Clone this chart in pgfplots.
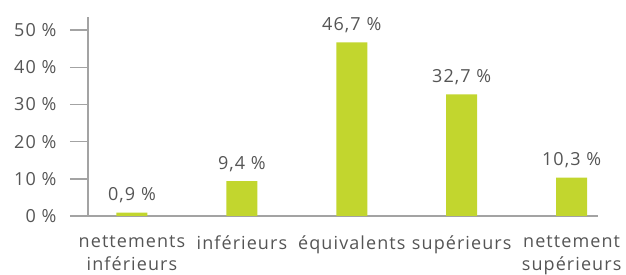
\documentclass[border=0pt]{standalone}
\usepackage{pgfplots}
\pgfplotsset{compat=1.18}
\usepackage{fontspec}
\setmainfont[LetterSpace=6]{Open Sans}
\definecolor{barc}{HTML}{C2D62E}
\definecolor{txt}{HTML}{555555}
\definecolor{axc}{HTML}{A3A3A3}
\begin{document}
\begin{tikzpicture}
\begin{axis}[
  at={(0,0)}, anchor=south west,
  scale only axis, width=510bp, height=199bp,
  xmin=-0.4, xmax=4.24, ymin=0, ymax=53.5,
  axis x line*=bottom, axis y line*=left,
  axis line style={draw=axc, line width=1.4bp, -},
  ytick={0,10,20,30,40,50},
  yticklabels={0 \%,10 \%,20 \%,30 \%,40 \%,50 \%},
  xtick={0,1,2,3,4},
  xticklabels={nettements\\inférieurs, inférieurs, équivalents, supérieurs, nettement\\supérieurs},
  xtick style={draw=none},
  ytick style={draw=axc, line width=1.4bp},
  tick align=outside, major tick length=18bp,
  every tick label/.append style={text=txt, font=\fontsize{18bp}{23bp}\selectfont},
  xticklabel style={align=center, anchor=north, yshift=2bp},
  yticklabel style={xshift=-10bp},
  ybar, bar width=31bp,
  point meta=explicit symbolic,
  nodes near coords,
  every node near coord/.append style={text=txt, font=\fontsize{18bp}{23bp}\selectfont, anchor=base, yshift=12bp},
]
\addplot[fill=barc, draw=none] table[meta=lab] {
x y lab
0 0.9 {0,9 \%}
1 9.4 {9,4 \%}
2 46.7 {46,7 \%}
3 32.7 {32,7 \%}
4 10.3 {10,3 \%}
};
\end{axis}
\pgfresetboundingbox
\path[use as bounding box] (-88bp,-59bp) rectangle (538bp,216bp);
\end{tikzpicture}
\end{document}
